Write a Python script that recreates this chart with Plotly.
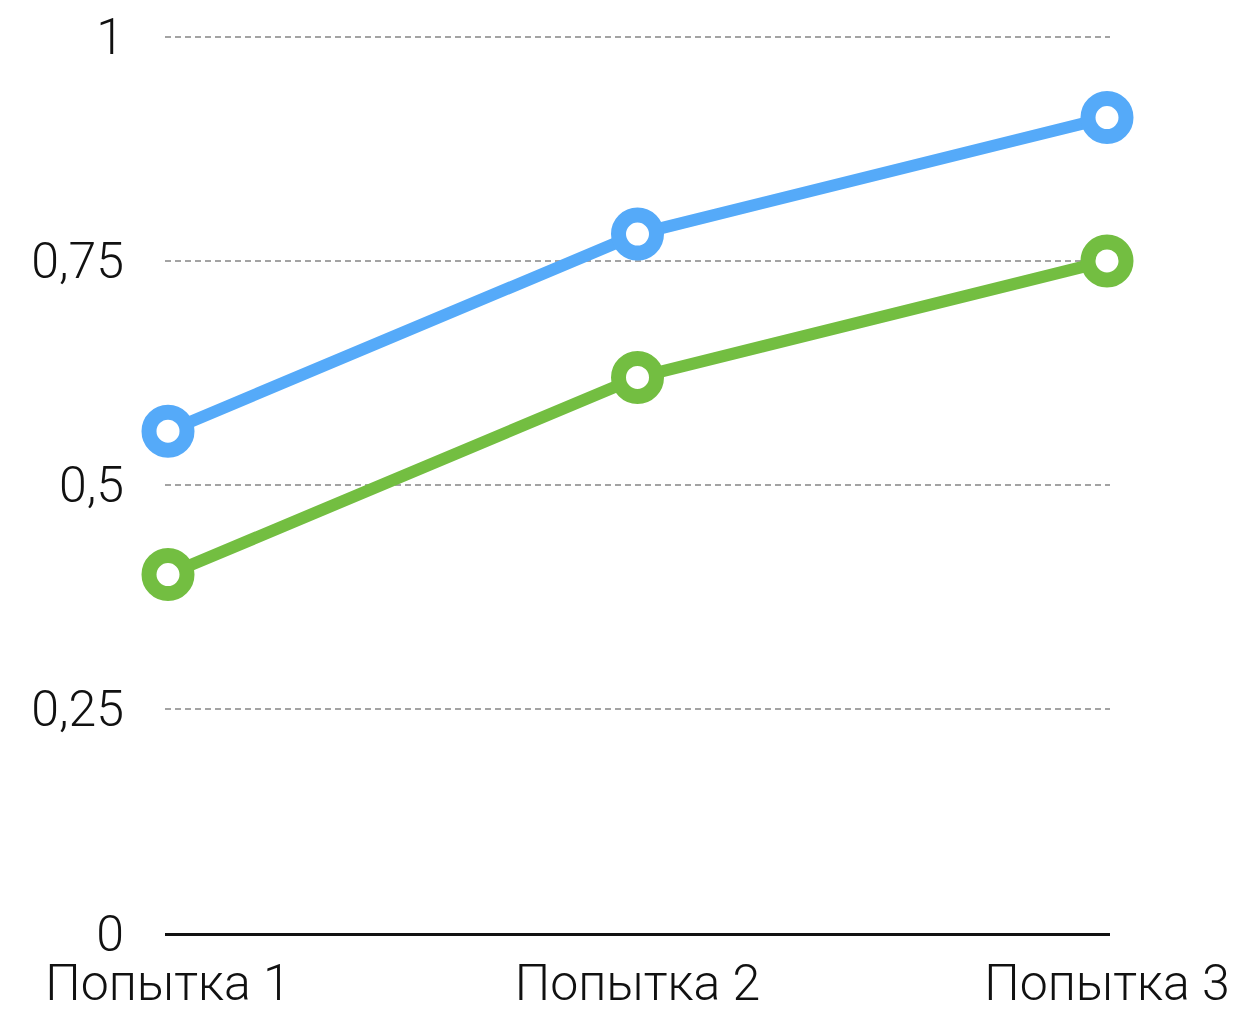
import plotly.graph_objects as go

categories = ["Попытка 1", "Попытка 2", "Попытка 3"]
blue_values = [0.56, 0.78, 0.91]
green_values = [0.40, 0.62, 0.75]
y_tick_vals = [0, 0.25, 0.5, 0.75, 1]
y_tick_text = ["0", "0,25", "0,5", "0,75", "1"]

BLUE = "#55aaf9"
GREEN = "#73be41"

fig = go.Figure()
for vals, col in [(green_values, GREEN), (blue_values, BLUE)]:
    fig.add_trace(go.Scatter(
        x=categories, y=vals, mode="lines+markers",
        line=dict(color=col, width=12),
        marker=dict(size=38, color="white", line=dict(color=col, width=15)),
        cliponaxis=False, showlegend=False, hoverinfo="skip",
    ))

FONT = dict(family="Roboto, 'Liberation Sans', sans-serif", size=50, color="#111111", weight=300)

fig.update_layout(
    width=1242, height=1011,
    margin=dict(l=165, r=132, t=19, b=78, autoexpand=False),
    paper_bgcolor="white", plot_bgcolor="white",
    font=FONT,
    xaxis=dict(
        type="category", range=[-0.0064, 2.0064], automargin=False,
        showgrid=False, zeroline=False,
        showline=True, linecolor="#111111", linewidth=2.5,
        ticks="", tickfont=FONT, ticklabelstandoff=4,
    ),
    yaxis=dict(
        range=[0, 1.02], tickvals=y_tick_vals, ticktext=y_tick_text, automargin=False,
        showgrid=True, gridcolor="#a3a3a3", gridwidth=2, griddash="6px,4px",
        zeroline=False, showline=False, ticks="",
        tickfont=FONT, ticklabelstandoff=40,
    ),
)

fig.write_html(
    "out.html",
    config={"displayModeBar": False, "staticPlot": True},
    post_script="document.body.style.margin='0';document.body.style.overflow='hidden';",
)
